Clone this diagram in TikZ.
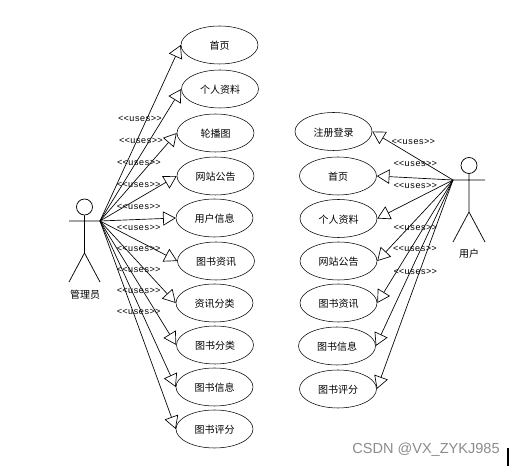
\documentclass[tikz,border=0pt]{standalone}
\usepackage{fontspec}
\setmainfont{Liberation Sans}
\newfontfamily\cjk{Noto Sans CJK SC}
\newfontfamily\monof{Liberation Mono}
\usetikzlibrary{arrows.meta,shapes.geometric}
\tikzset{
  usecase/.style={draw,ellipse,minimum width=57.75pt,minimum height=28.5pt,inner sep=0pt,text height=7pt,text depth=0pt,font=\cjk\fontsize{7.5}{9}\selectfont},
  actorlabel/.style={font=\cjk\fontsize{7.5}{9}\selectfont,inner sep=0pt},
  usesl/.style={font=\monof\fontsize{6.8}{8}\selectfont,inner sep=0pt,yshift=-0.6pt},
  conn/.style={draw,line width=0.5pt,-{Triangle[open,length=9.5pt,width=10.7pt]}},
  actorline/.style={line width=0.55pt}
}
\begin{document}
\begin{tikzpicture}[x=0.75pt,y=-0.75pt]
\useasboundingbox (0,0) rectangle (515,466);
\fill[white] (0,0) rectangle (515,466);
% left use cases
\node[usecase] (a1) at (219.5,45) {首页};
\node[usecase] (a2) at (220,89) {个人资料};
\node[usecase] (a3) at (215.5,133) {轮播图};
\node[usecase] (a4) at (215.5,176) {网站公告};
\node[usecase] (a5) at (214.5,218) {用户信息};
\node[usecase] (a6) at (216,261) {图书资讯};
\node[usecase] (a7) at (214.5,303) {资讯分类};
\node[usecase] (a8) at (215,345) {图书分类};
\node[usecase] (a9) at (214.5,387) {图书信息};
\node[usecase] (a10) at (214.5,429) {图书评分};
% right use cases
\node[usecase] (b1) at (333.5,131.5) {注册登录};
\node[usecase] (b2) at (338,176) {首页};
\node[usecase] (b3) at (338.5,218.5) {个人资料};
\node[usecase] (b4) at (338.5,261) {网站公告};
\node[usecase] (b5) at (338.5,303) {图书资讯};
\node[usecase] (b6) at (337,346) {图书信息};
\node[usecase] (b7) at (338,389) {图书评分};
% left actor
\node[draw,circle,minimum size=12pt,inner sep=0pt,line width=0.55pt] (headL) at (84.5,207) {};
\coordinate (handL) at (100,221);
\coordinate (armL) at (69,221);
\coordinate (hipL) at (84.5,253);
\coordinate (footL1) at (69,282);
\coordinate (footL2) at (100,282);
\draw[actorline] (headL.south) -- (hipL) (armL) -- (handL) (footL1) -- (hipL) -- (footL2);
\node[actorlabel] (labL) at (85,295) {管理员};
% right actor
\node[draw,circle,minimum size=12pt,inner sep=0pt,line width=0.55pt] (headR) at (469,165.5) {};
\coordinate (handR) at (453,180);
\coordinate (armR) at (485,180);
\coordinate (hipR) at (469,212);
\coordinate (footR1) at (453,242);
\coordinate (footR2) at (485,242);
\draw[actorline] (headR.south) -- (hipR) (handR) -- (armR) (footR1) -- (hipR) -- (footR2);
\node[actorlabel] (labR) at (469,253.5) {用户};
% connectors
\foreach \n in {a1,a2,a3,a4,a5,a6,a7,a8,a9,a10}
  \draw[conn] (handL) -- (\n.west);
\foreach \n in {b1,b2,b3,b4,b5,b6,b7}
  \draw[conn] (handR) -- (\n.east);
% labels
\node[usesl] (u1) at (140,118.3) {<{}<uses>{}>};
\node[usesl] (u2) at (141,140.3) {<{}<uses>{}>};
\node[usesl] (u3) at (139,162.3) {<{}<uses>{}>};
\node[usesl] (u4) at (138.7,184.3) {<{}<uses>{}>};
\node[usesl] (u5) at (138.7,205.7) {<{}<uses>{}>};
\node[usesl] (u6) at (138.7,226.7) {<{}<uses>{}>};
\node[usesl] (u7) at (138.7,247.7) {<{}<uses>{}>};
\node[usesl] (u8) at (138.7,269.3) {<{}<uses>{}>};
\node[usesl] (u9) at (138.7,290.3) {<{}<uses>{}>};
\node[usesl] (u10) at (138.7,311.3) {<{}<uses>{}>};
\node[usesl] (v1) at (413.3,141.3) {<{}<uses>{}>};
\node[usesl] (v2) at (415.3,163.3) {<{}<uses>{}>};
\node[usesl] (v3) at (415.3,185.3) {<{}<uses>{}>};
\node[usesl] (v4) at (415.3,227.3) {<{}<uses>{}>};
\node[usesl] (v5) at (415,248.3) {<{}<uses>{}>};
\node[usesl] (v6) at (415.3,270.7) {<{}<uses>{}>};
% watermark and edge mark
\node[font=\fontsize{10.9}{12}\selectfont,text=black!45,inner sep=0pt] (wm) at (426,449.5) {CSDN @VX\_ZYKJ985};
\fill[black] (507,448) rectangle (509,466);
\end{tikzpicture}
\end{document}
